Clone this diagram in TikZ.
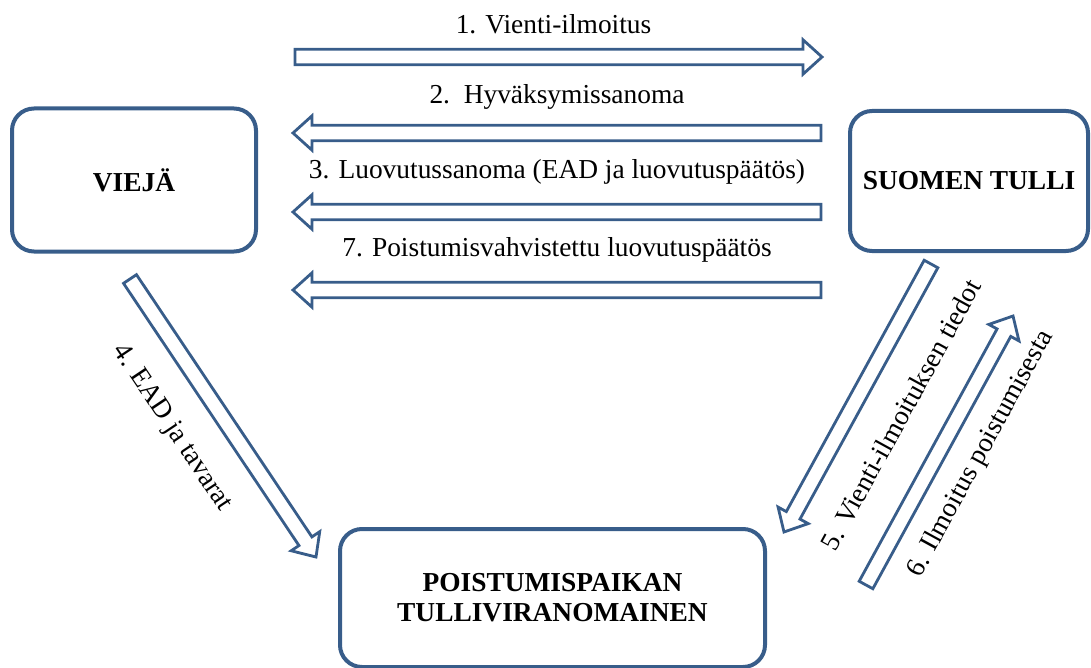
\documentclass[tikz,border=0pt]{standalone}
\usepackage{fontspec}
\setmainfont{Liberation Serif}
\usetikzlibrary{calc,positioning}

\definecolor{tullblue}{RGB}{56,93,138}

\def\shaftw{3.9pt}
\def\headw{8.6pt}
\def\headl{9.5pt}

\tikzset{
  party/.style={draw=tullblue, line width=2pt, rounded corners=11pt,
    font=\fontsize{13.7}{15}\selectfont\bfseries, align=center},
  blockarrow/.style={draw=tullblue, line width=1.4pt, fill=white, line join=miter,
    to path={
      ($(\tikztostart)!\shaftw!90:(\tikztotarget)$)
      -- ($(\tikztotarget)!\headl!(\tikztostart)!\shaftw!90:(\tikztotarget)$)
      -- ($(\tikztotarget)!\headl!(\tikztostart)!\headw!90:(\tikztotarget)$)
      -- (\tikztotarget)
      -- ($(\tikztotarget)!\headl!(\tikztostart)!\headw!-90:(\tikztotarget)$)
      -- ($(\tikztotarget)!\headl!(\tikztostart)!\shaftw!-90:(\tikztotarget)$)
      -- ($(\tikztostart)!\shaftw!-90:(\tikztotarget)$)
      -- cycle}},
  msg/.style={font=\fontsize{13.7}{15}\selectfont, inner sep=0pt,
    text height=9.5pt, text depth=2.5pt},
}

\begin{document}
\begin{tikzpicture}[%
      x=0.5pt, y=-0.5pt,
      ]
      \useasboundingbox (0,0) rectangle (1091,668);

      \node [party, minimum width=122pt, minimum height=71.5pt] (vieja) at (134,180) {VIEJÄ};
      \node [party, minimum width=119pt, minimum height=70pt] (tulli) at (969,181) {SUOMEN TULLI};
      \node [party, minimum width=212.5pt, minimum height=69pt] (poistuminen) at (552.5,598)
            {POISTUMISPAIKAN\\TULLIVIRANOMAINEN};

      \coordinate (a1s) at (295,57);
      \coordinate (a1e) at (822,57);
      \coordinate (a2s) at (821,133);
      \coordinate (a2e) at (293,133);
      \coordinate (a3s) at (821,212);
      \coordinate (a3e) at (293,212);
      \coordinate (a7s) at (821,290);
      \coordinate (a7e) at (293,290);
      \coordinate (a4s) at (130,279);
      \coordinate (a4e) at (316,557);
      \coordinate (a5s) at (931,264);
      \coordinate (a5e) at (784,532);
      \coordinate (a6s) at (866,585);
      \coordinate (a6e) at (1013,316);

      \draw [blockarrow] (a1s) to (a1e);
      \draw [blockarrow] (a2s) to (a2e);
      \draw [blockarrow] (a3s) to (a3e);
      \draw [blockarrow] (a7s) to (a7e);
      \draw [blockarrow] (a4s) to (a4e);
      \draw [blockarrow] (a5s) to (a5e);
      \draw [blockarrow] (a6s) to (a6e);

      \path (a1s) -- (a1e) node [msg, midway, above=9pt, xshift=-2.5pt] (l1) {1. Vienti-ilmoitus};
      \path (a2s) -- (a2e) node [msg, midway, above=12pt] (l2) {2.\ \ Hyväksymissanoma};
      \path (a3s) -- (a3e) node [msg, midway, above=14pt] (l3) {3. Luovutussanoma (EAD ja luovutuspäätös)};
      \path (a7s) -- (a7e) node [msg, midway, above=14pt] (l7) {7. Poistumisvahvistettu luovutuspäätös};
      \path (a4s) -- (a4e) node [msg, sloped, pos=0.44, below=17.5pt] (l4) {4. EAD ja tavarat};
      \path (a5s) -- (a5e) node [msg, sloped, pos=0.48, below=18pt] (l5) {5. Vienti-ilmoituksen tiedot};
      \path (a6s) -- (a6e) node [msg, sloped, pos=0.555, below=12.7pt] (l6) {6. Ilmoitus poistumisesta};
\end{tikzpicture}
\end{document}
